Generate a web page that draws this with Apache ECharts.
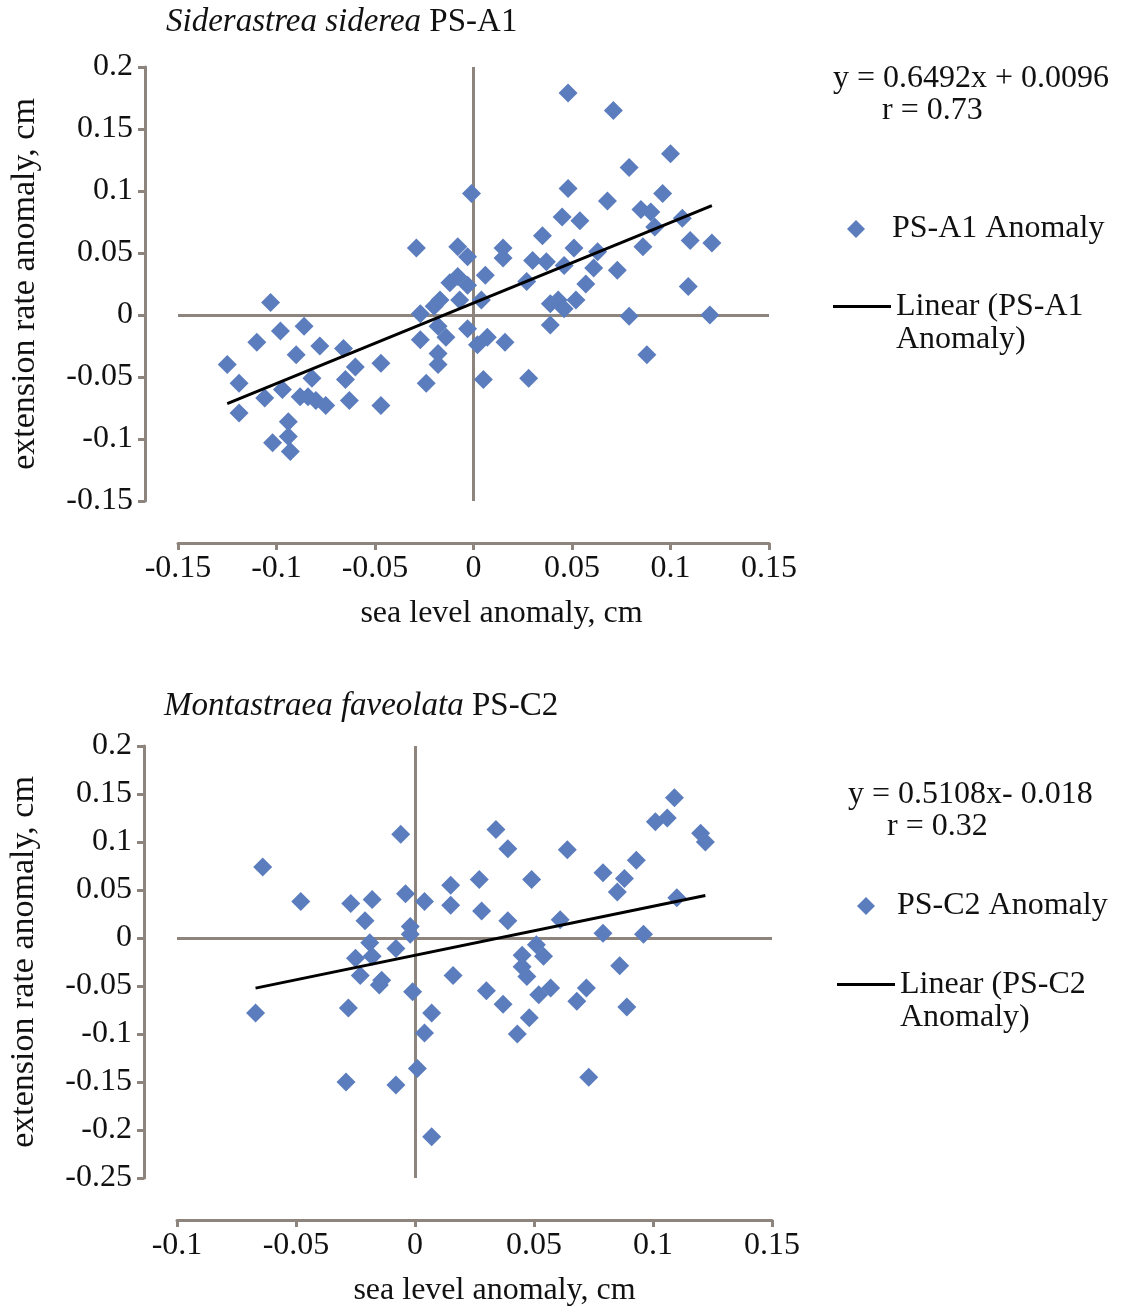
<!DOCTYPE html>
<html>
<head>
<meta charset="utf-8">
<title>Coral extension rate vs sea level anomaly</title>
<script src="https://cdn.jsdelivr.net/npm/echarts@6/dist/echarts.min.js"></script>
<style>
  html, body { margin: 0; padding: 0; background: #fff; }
  #chart { width: 1130px; height: 1311px; }
</style>
</head>
<body>
<div id="chart"></div>
<script>
// Siderastrea siderea PS-A1 : sea level anomaly (cm) / extension rate anomaly (cm)
const a1X = [
  -0.103, -0.098, -0.086, -0.110, -0.078, -0.090, -0.066, -0.125, -0.060, -0.047,
  -0.119, -0.097, -0.082, -0.106, -0.088, -0.084, -0.080, -0.075, -0.065, -0.063,
  -0.047, -0.119, -0.094, -0.094, -0.102, -0.093,
  -0.029, -0.008, -0.003, -0.012, -0.008, -0.003, 0.006, -0.001, -0.027, -0.020,
  -0.017, -0.007, -0.027, -0.018, -0.014, -0.018, -0.018, -0.024, -0.003,
  0.048, 0.071, 0.100, 0.079, 0.048, 0.068, 0.096, 0.085, 0.090, 0.045,
  0.054, 0.106, 0.092, 0.035, 0.110, 0.121, 0.086, 0.015, 0.015, 0.051,
  0.063, 0.030, 0.037, 0.046, 0.061, 0.073, 0.027, 0.057, 0.109, 0.039,
  0.043, 0.046, 0.052, 0.079, 0.120, 0.039, 0.016, 0.088, 0.028, 0.004,
  0.007, 0.002, 0.005
]
const a1Y = [
  0.010, -0.013, -0.009, -0.022, -0.025, -0.032, -0.027, -0.040, -0.042, -0.039,
  -0.055, -0.060, -0.051, -0.067, -0.066, -0.066, -0.069, -0.073, -0.052, -0.069,
  -0.073, -0.079, -0.086, -0.098, -0.103, -0.110,
  0.054, 0.055, 0.047, 0.026, 0.031, 0.024, 0.032, 0.098, 0.001, 0.007,
  0.012, 0.012, -0.020, -0.009, -0.018, -0.031, -0.040, -0.055, -0.011,
  0.179, 0.165, 0.130, 0.119, 0.102, 0.092, 0.098, 0.085, 0.083, 0.079,
  0.076, 0.078, 0.071, 0.064, 0.060, 0.058, 0.055, 0.054, 0.046, 0.054,
  0.051, 0.044, 0.043, 0.040, 0.038, 0.036, 0.027, 0.025, 0.023, 0.009,
  0.012, 0.005, 0.012, -0.001, 0.000, -0.008, -0.022, -0.032, -0.051, 0.012,
  -0.018, -0.024, -0.052
]
// trend line y = slope * x + intercept
const a1Fit = [0.6492, 0.0096]
const a1Text = ['y = 0.6492x + 0.0096', 'r = 0.73']

// Montastraea faveolata PS-C2
const c2X = [
  -0.006, -0.064, -0.048, -0.027, -0.018, -0.004, 0.004, -0.021, -0.002, -0.002,
  -0.019, -0.008, -0.025, -0.018, -0.023, -0.014, -0.015, -0.001, -0.067, -0.028,
  0.007, 0.004, 0.001, -0.029, -0.008, 0.007,
  0.109, 0.101, 0.106, 0.120, 0.122, 0.034, 0.039, 0.064, 0.093, 0.079,
  0.088, 0.085, 0.110, 0.049, 0.027, 0.015, 0.015, 0.028, 0.039, 0.061,
  0.079, 0.096, 0.051, 0.054, 0.045, 0.045, 0.047, 0.016, 0.086, 0.030,
  0.037, 0.052, 0.057, 0.072, 0.068, 0.089, 0.048, 0.043, 0.073
]
const c2Y = [
  0.108, 0.074, 0.038, 0.036, 0.040, 0.046, 0.038, 0.018, 0.012, 0.004,
  -0.005, -0.011, -0.021, -0.019, -0.039, -0.044, -0.049, -0.056, -0.078, -0.073,
  -0.078, -0.099, -0.136, -0.150, -0.153, -0.207,
  0.146, 0.121, 0.125, 0.109, 0.100, 0.113, 0.093, 0.092, 0.081, 0.068,
  0.062, 0.048, 0.042, 0.061, 0.061, 0.055, 0.034, 0.028, 0.018, 0.019,
  0.005, 0.004, -0.007, -0.019, -0.018, -0.030, -0.040, -0.039, -0.029, -0.055,
  -0.069, -0.059, -0.052, -0.052, -0.066, -0.072, -0.083, -0.100, -0.145
]
const c2Fit = [0.5108, -0.018]
const c2Text = ['y = 0.5108x- 0.018', 'r = 0.32']

const FONT = '"Liberation Serif", "Times New Roman", serif'
const AXIS_COLOR = '#8c847d'
const MARK_COLOR = '#5b7dbd'

function pairs(xs, ys) {
  return xs.map((x, i) => [x, ys[i]])
}

// endpoints of the fitted line over the range of the data
function fitLine(xs, fit) {
  const lo = Math.min.apply(null, xs)
  const hi = Math.max.apply(null, xs)
  return [[lo, fit[0] * lo + fit[1]], [hi, fit[0] * hi + fit[1]]]
}

function tickLabel(v) {
  return String(Math.round(v * 1000) / 1000)
}

function xAxisOf(gridIndex, min, max, namePad) {
  return {
    type: 'value',
    gridIndex: gridIndex,
    min: min,
    max: max,
    interval: 0.05,
    position: 'bottom',
    offset: 42,
    name: 'sea level anomaly, cm',
    nameLocation: 'middle',
    nameGap: 55,
    nameTextStyle: { fontFamily: FONT, fontSize: 32, color: '#111', padding: [0, 0, 0, namePad] },
    axisLine: { onZero: false, lineStyle: { color: AXIS_COLOR, width: 3 } },
    axisTick: { length: 7, lineStyle: { color: AXIS_COLOR, width: 3 } },
    axisLabel: { margin: 10, fontFamily: FONT, fontSize: 32, color: '#111', formatter: tickLabel },
    splitLine: { show: false }
  }
}

function yAxisOf(gridIndex, min, max) {
  return {
    type: 'value',
    gridIndex: gridIndex,
    min: min,
    max: max,
    interval: 0.05,
    position: 'left',
    offset: 33,
    name: 'extension rate anomaly, cm',
    nameLocation: 'middle',
    nameGap: 103,
    nameTextStyle: { fontFamily: FONT, fontSize: 34, color: '#111' },
    axisLine: { onZero: false, lineStyle: { color: AXIS_COLOR, width: 3 } },
    axisTick: { length: 7, lineStyle: { color: AXIS_COLOR, width: 3 } },
    axisLabel: { margin: 12, fontFamily: FONT, fontSize: 32, color: '#111', formatter: tickLabel },
    splitLine: { show: false }
  }
}

function scatterOf(name, idx, xs, ys) {
  return {
    name: name,
    type: 'scatter',
    xAxisIndex: idx,
    yAxisIndex: idx,
    symbol: 'diamond',
    symbolSize: 19,
    itemStyle: { color: MARK_COLOR, opacity: 1 },
    data: pairs(xs, ys),
    z: 2,
    // zero lines crossing the plot area
    markLine: {
      z: 1,
      silent: true,
      symbol: 'none',
      label: { show: false },
      lineStyle: { color: AXIS_COLOR, width: 3, type: 'solid' },
      emphasis: { disabled: true },
      data: [{ xAxis: 0 }, { yAxis: 0 }]
    }
  }
}

function trendOf(name, idx, xs, fit) {
  return {
    name: name,
    type: 'line',
    xAxisIndex: idx,
    yAxisIndex: idx,
    symbol: 'none',
    z: 3,
    lineStyle: { color: '#000', width: 3 },
    itemStyle: { color: '#000' },
    data: fitLine(xs, fit)
  }
}

function legendsOf(dotName, lineName, x, dotTop, lineTop) {
  return [
    {
      data: [dotName],
      left: x.dot,
      top: dotTop,
      padding: 0,
      icon: 'diamond',
      itemWidth: 18,
      itemHeight: 18,
      itemStyle: { color: MARK_COLOR },
      textStyle: { fontFamily: FONT, fontSize: 32, color: '#111', padding: [0, 0, 0, x.dotGap] },
      selectedMode: false
    },
    {
      data: [lineName],
      left: x.line,
      top: lineTop,
      padding: 0,
      icon: 'rect',
      itemWidth: 58,
      itemHeight: 3,
      itemStyle: { color: '#000' },
      // empty first line so the key line sits level with the first text line
      formatter: function(n) { return ' \n' + n.replace(' Anomaly)', '\nAnomaly)') },
      textStyle: { fontFamily: FONT, fontSize: 32, lineHeight: 33, color: '#111' },
      selectedMode: false
    }
  ]
}

function textAt(left, top, text) {
  return {
    type: 'text',
    left: left,
    top: top,
    style: { text: text, font: '32px ' + FONT, fill: '#111' }
  }
}

const chart = echarts.init(document.getElementById('chart'), null, { renderer: 'canvas' })

const titleStyle = {
  fontFamily: FONT, fontSize: 33, fontWeight: 'normal', color: '#111',
  rich: { i: { fontFamily: FONT, fontSize: 33, fontStyle: 'italic', color: '#111' } }
}

const option = {
  backgroundColor: '#fff',
  animation: false,
  title: [
    { text: '{i|Siderastrea siderea} PS-A1', left: 166, top: 6, padding: 0, textStyle: titleStyle },
    { text: '{i|Montastraea faveolata} PS-C2', left: 164, top: 690, padding: 0, textStyle: titleStyle }
  ],
  grid: [
    { left: 178, top: 67, width: 591, height: 434, outerBoundsMode: 'none' },
    { left: 177, top: 746, width: 595, height: 432, outerBoundsMode: 'none' }
  ],
  xAxis: [xAxisOf(0, -0.15, 0.15, 56), xAxisOf(1, -0.1, 0.15, 40)],
  yAxis: [yAxisOf(0, -0.15, 0.2), yAxisOf(1, -0.25, 0.2)],
  legend: legendsOf('PS-A1 Anomaly', 'Linear (PS-A1 Anomaly)', { dot: 847, dotGap: 22, line: 833 }, 213, 257)
    .concat(legendsOf('PS-C2 Anomaly', 'Linear (PS-C2 Anomaly)', { dot: 857, dotGap: 17, line: 837 }, 890, 935)),
  graphic: [
    textAt(833, 63, a1Text[0]),
    textAt(882, 95, a1Text[1]),
    textAt(848, 779, c2Text[0]),
    textAt(887, 811, c2Text[1])
  ],
  series: [
    scatterOf('PS-A1 Anomaly', 0, a1X, a1Y),
    trendOf('Linear (PS-A1 Anomaly)', 0, a1X, a1Fit),
    scatterOf('PS-C2 Anomaly', 1, c2X, c2Y),
    trendOf('Linear (PS-C2 Anomaly)', 1, c2X, c2Fit)
  ]
}

chart.setOption(option)
</script>
</body>
</html>
